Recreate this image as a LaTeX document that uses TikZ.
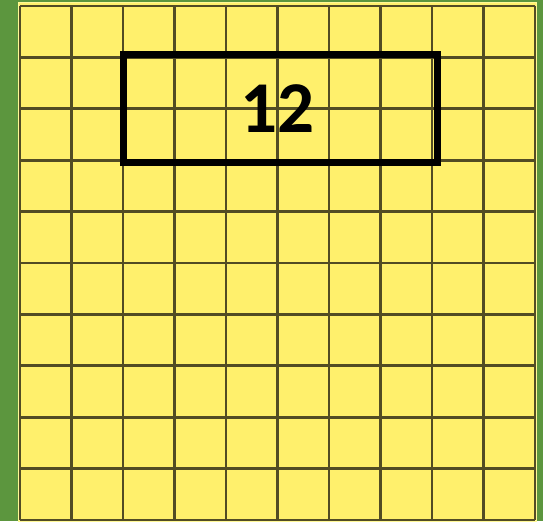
\documentclass[tikz,border=0pt]{standalone}
\usepackage{fontspec}
\usepackage{tikz}
\usetikzlibrary{calc, positioning}
\usepackage{xcolor}
\newfontfamily\numfont{Carlito}
\definecolor{bgGreen}{RGB}{92, 150, 62}
\definecolor{cellYellow}{RGB}{255, 240, 108}
\definecolor{edgeYellow}{RGB}{255, 248, 150}
\definecolor{gridLine}{RGB}{82, 76, 36}

\begin{document}
\begin{tikzpicture}[x=1pt, y=-1pt]
  % background and panel
  \fill[bgGreen] (0,0) rectangle (543,521);
  \fill[cellYellow, draw=edgeYellow, line width=1.5pt] (18.5,2.5) rectangle (536.5,521);

  % 10 x 10 grid
  \foreach \i in {0,...,10} {
    \draw[gridLine, line width=2.8pt] ({20+51.5*\i}, 6) -- ({20+51.5*\i}, 520);
    \draw[gridLine, line width=2.8pt] (20, {6+51.4*\i}) -- (535, {6+51.4*\i});
  }

  % the box and its number
  \node[draw=black, line width=7pt, minimum width=314pt, minimum height=108pt,
        inner sep=0pt] (countbox) at (280.5,108.5) {};
  \node[font=\numfont\bfseries\fontsize{73}{73}\selectfont, inner sep=0pt]
        (countnum) at (277,108.5) {12};
\end{tikzpicture}
\end{document}
